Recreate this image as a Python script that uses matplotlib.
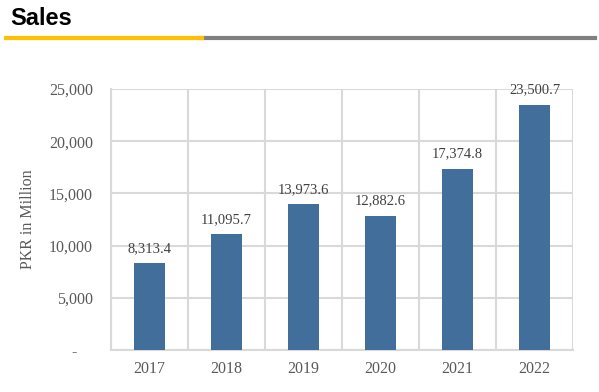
import matplotlib.pyplot as plt
import numpy as np
from matplotlib.lines import Line2D

years = ["2017", "2018", "2019", "2020", "2021", "2022"]
sales = [8313.4, 11095.7, 13973.6, 12882.6, 17374.8, 23500.7]
yticks = [0, 5000, 10000, 15000, 20000, 25000]
ytick_labels = ["-    ", "5,000", "10,000", "15,000", "20,000", "25,000"]

bar_color = "#426E9C"
grid_color = "#D9D9D9"
text_color = "#595959"

plt.rcParams["font.family"] = "Liberation Serif"

fig = plt.figure(figsize=(5.99, 3.92), dpi=100)
ax = fig.add_axes([0.1853, 0.1071, 0.7713, 0.6659])

x = np.arange(len(years))
ax.bar(x, sales, width=0.4, color=bar_color, zorder=3)

for xi, v in zip(x, sales):
    ax.annotate("{:,.1f}".format(v), (xi, v), xytext=(0, 6),
                textcoords="offset points", ha="center", va="bottom",
                fontsize=10.5, color="#404040")

ax.set_xlim(-0.5, len(years) - 0.5)
ax.set_ylim(0, 25000)
ax.set_xticks(x)
ax.set_xticklabels(years)
ax.set_yticks(yticks)
ax.set_yticklabels(ytick_labels)
ax.set_xticks(np.arange(-0.5, len(years), 1.0), minor=True)

ax.grid(axis="y", which="major", color=grid_color, linewidth=1.5, zorder=0)
ax.grid(axis="x", which="minor", color=grid_color, linewidth=1.5, zorder=0)
ax.tick_params(axis="both", which="both", length=0, labelsize=11.5,
               labelcolor=text_color)
ax.tick_params(axis="x", pad=8)
ax.tick_params(axis="y", pad=13)
for s in ["top", "right"]:
    ax.spines[s].set_visible(False)
for s in ["left", "bottom"]:
    ax.spines[s].set_color(grid_color)
    ax.spines[s].set_linewidth(1.5)

ax.set_ylabel("PKR in Million", fontsize=11.5, color=text_color, labelpad=9)

# header
fig.text(0.017, 0.952, "Sales", fontsize=17, fontweight="bold",
         family="Liberation Sans", va="center", ha="left", color="black")
fig.add_artist(Line2D([0.333, 0.993], [0.904, 0.904], color="#808080",
                      linewidth=3, transform=fig.transFigure))
fig.add_artist(Line2D([0.01, 0.337], [0.904, 0.904], color="#FFC000",
                      linewidth=3, transform=fig.transFigure))

fig.savefig("out.png", dpi=100)
